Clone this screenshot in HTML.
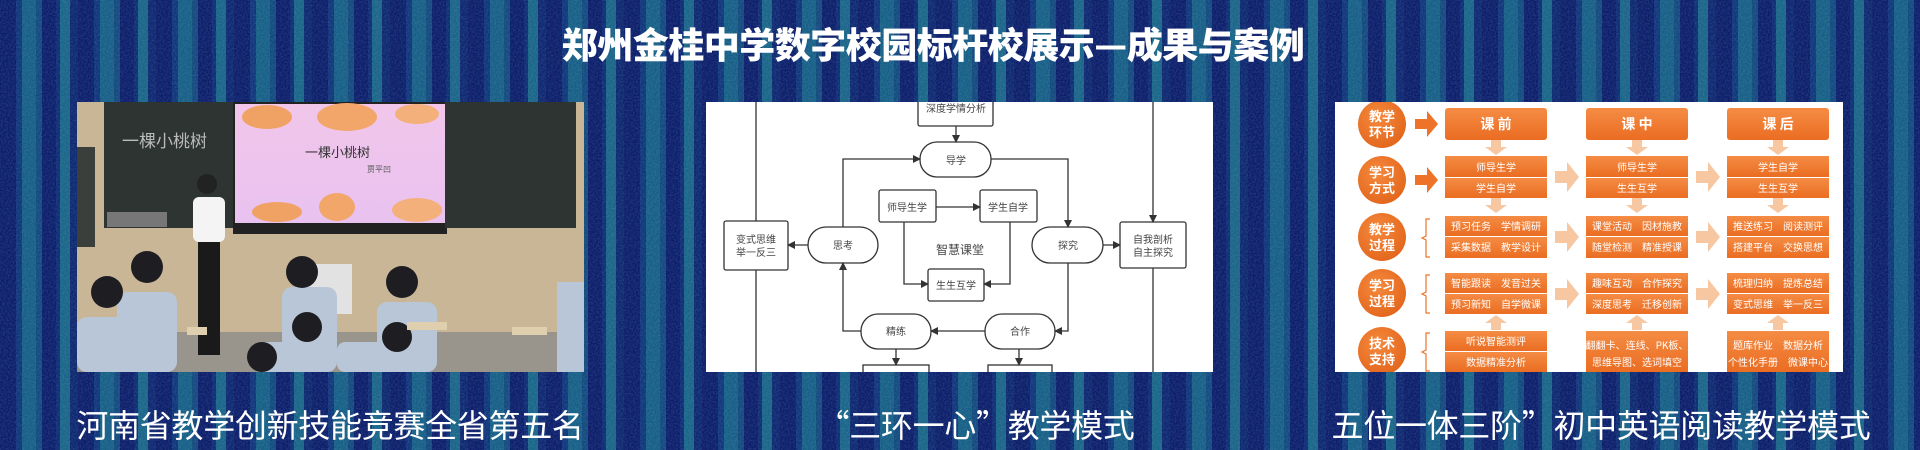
<!DOCTYPE html>
<html><head><meta charset="utf-8">
<style>
html,body{margin:0;padding:0;}
body{width:1920px;height:450px;overflow:hidden;position:relative;
background:
repeating-linear-gradient(90deg,#0c1e6a 0 16px,#10357a 16px 22px,#175f86 22px 36px,#13497e 36px 42px,#0c1e6a 42px 56px,#0f2c74 56px 60px,#1a6588 60px 70px,#0e2870 70px 78px);
font-family:"Liberation Sans","Noto Sans CJK SC",sans-serif;}
.noise{position:absolute;left:0;top:0;width:1920px;height:450px;opacity:0.25;}
.t{position:absolute;color:#fff;white-space:nowrap;transform:translateX(-50%);}
.title{left:933px;top:17px;font-size:36px;font-weight:900;letter-spacing:-0.5px;font-family:"Noto Sans CJK SC",sans-serif;}
.cap{top:401px;font-size:32px;font-family:"Noto Sans CJK SC",sans-serif;font-weight:400;letter-spacing:-0.3px;}
.p{position:absolute;top:102px;height:270px;}
svg text{font-family:"Noto Sans CJK SC",sans-serif;}
</style></head><body>
<svg class="noise" width="1920" height="450"><filter id="n"><feTurbulence type="fractalNoise" baseFrequency="0.6" numOctaves="1"/><feColorMatrix values="0 0 0 0 0.5  0 0 0 0 0.7  0 0 0 0 0.9  0 0 0 1.2 -0.4"/></filter><rect width="1920" height="450" filter="url(#n)"/></svg>
<div class="t title">郑州金桂中学数字校园标杆校展示—成果与案例</div>

<!-- panel 1 photo -->
<svg class="p" style="left:77px" width="507" height="270" viewBox="0 0 507 270">
<rect width="507" height="270" fill="#c8b697"/>
<rect x="0" y="45" width="18" height="100" fill="#3a3f3c"/>
<rect x="27" y="0" width="131" height="126" fill="#2e3432"/>
<text x="45" y="45" font-size="17" fill="#bbb">一棵小桃树</text>
<rect x="30" y="110" width="60" height="15" fill="#777"/>
<rect x="156" y="0" width="214" height="132" fill="#222"/>
<defs><linearGradient id="pk" x1="0" y1="0" x2="0" y2="1"><stop offset="0" stop-color="#f1c6ea"/><stop offset="1" stop-color="#e9c2f0"/></linearGradient></defs>
<rect x="158" y="2" width="210" height="119" fill="url(#pk)"/>
<ellipse cx="190" cy="15" rx="25" ry="12" fill="#f0a264"/>
<ellipse cx="270" cy="15" rx="30" ry="14" fill="#f2a66a"/>
<ellipse cx="340" cy="12" rx="22" ry="10" fill="#f3b07a"/>
<ellipse cx="200" cy="110" rx="25" ry="10" fill="#f0a264"/>
<ellipse cx="260" cy="105" rx="18" ry="14" fill="#f2a66a"/>
<ellipse cx="340" cy="108" rx="25" ry="12" fill="#f3b07a"/>
<text x="228" y="55" font-size="13" fill="#333">一棵小桃树</text>
<text x="290" y="70" font-size="8" fill="#555">贾平凹</text>
<rect x="368" y="0" width="131" height="126" fill="#2e3432"/>
<rect x="0" y="230" width="507" height="40" fill="#9a958c"/>
<rect x="225" y="162" width="50" height="50" fill="#e2e2e2"/>
<circle cx="130" cy="82" r="10" fill="#222"/>
<rect x="116" y="95" width="32" height="45" rx="6" fill="#f4f4f4"/>
<rect x="121" y="140" width="22" height="113" fill="#1a1a1a"/>
<g fill="#b9c6d8">
<rect x="0" y="215" width="70" height="55" rx="10"/><rect x="40" y="190" width="60" height="80" rx="10"/>
<rect x="205" y="185" width="55" height="85" rx="10"/><rect x="180" y="240" width="70" height="30" rx="8"/>
<rect x="300" y="200" width="60" height="70" rx="10"/><rect x="260" y="240" width="70" height="30" rx="8"/>
<rect x="480" y="180" width="27" height="90"/>
</g>
<g fill="#1e1e22">
<circle cx="30" cy="190" r="16"/><circle cx="70" cy="165" r="16"/><circle cx="225" cy="170" r="16"/>
<circle cx="230" cy="225" r="15"/><circle cx="325" cy="180" r="16"/><circle cx="320" cy="235" r="15"/><circle cx="185" cy="255" r="15"/>
</g>
<g fill="#e0cfae"><rect x="110" y="225" width="20" height="8"/><rect x="330" y="220" width="40" height="8"/><rect x="435" y="225" width="35" height="8"/></g>
</svg>

<!-- panel 2 flowchart -->
<svg class="p" style="left:706px" width="507" height="270" viewBox="0 0 507 270">
<defs><marker id="a" markerWidth="8" markerHeight="8" refX="7" refY="4" orient="auto" markerUnits="userSpaceOnUse"><path d="M0,0 L8,4 L0,8 z" fill="#333"/></marker></defs>
<rect width="507" height="270" fill="#fff"/>
<g stroke="#333" stroke-width="1.3" fill="none">
<line x1="50" y1="0" x2="50" y2="119"/><line x1="50" y1="168" x2="50" y2="270"/>
<line x1="447" y1="0" x2="447" y2="120" marker-end="url(#a)"/><line x1="447" y1="166" x2="447" y2="270"/>
<rect x="212" y="-10" width="75" height="34" rx="2"/>
<line x1="250" y1="24" x2="250" y2="40" marker-end="url(#a)"/>
<rect x="214" y="40" width="71" height="35" rx="17"/>
<polyline points="137,125 137,57 214,57" marker-end="url(#a)"/>
<polyline points="285,57 362,57 362,125" marker-end="url(#a)"/>
<rect x="173" y="88" width="57" height="32" rx="2"/>
<rect x="274" y="88" width="57" height="32" rx="2"/>
<line x1="230" y1="105" x2="274" y2="105" marker-end="url(#a)"/>
<rect x="102" y="125" width="70" height="36" rx="18"/>
<rect x="18" y="119" width="64" height="49" rx="2"/>
<line x1="102" y1="143" x2="82" y2="143" marker-end="url(#a)"/>
<rect x="222" y="167" width="56" height="32" rx="2"/>
<polyline points="198,120 198,182 222,182" marker-end="url(#a)"/>
<polyline points="304,120 304,182 278,182" marker-end="url(#a)"/>
<rect x="326" y="125" width="71" height="36" rx="18"/>
<rect x="414" y="120" width="66" height="46" rx="2"/>
<line x1="397" y1="143" x2="414" y2="143" marker-end="url(#a)"/>
<rect x="155" y="212" width="70" height="35" rx="17"/>
<rect x="279" y="212" width="70" height="35" rx="17"/>
<line x1="279" y1="229" x2="225" y2="229" marker-end="url(#a)"/>
<polyline points="362,161 362,229 349,229" marker-end="url(#a)"/>
<polyline points="155,229 137,229 137,161" marker-end="url(#a)"/>
<line x1="190" y1="247" x2="190" y2="263" marker-end="url(#a)"/>
<line x1="313" y1="247" x2="313" y2="263" marker-end="url(#a)"/>
<rect x="157" y="263" width="66" height="20"/>
<rect x="282" y="263" width="64" height="20"/>
</g>
<g font-size="10" fill="#444" text-anchor="middle">
<text x="250" y="10">深度学情分析</text>
<text x="250" y="62">导学</text>
<text x="201" y="109">师导生学</text>
<text x="302" y="109">学生自学</text>
<text x="137" y="147">思考</text>
<text x="50" y="141">变式思维</text><text x="50" y="154">举一反三</text>
<text x="254" y="152" font-size="12">智慧课堂</text>
<text x="250" y="187">生生互学</text>
<text x="362" y="147">探究</text>
<text x="447" y="141">自我剖析</text><text x="447" y="154">自主探究</text>
<text x="190" y="233">精练</text>
<text x="314" y="233">合作</text>
</g>
</svg>

<!-- panel 3 orange -->
<svg class="p" style="left:1335px" width="508" height="270" viewBox="0 0 508 270">
<defs>
<linearGradient id="o" x1="0" y1="0" x2="0" y2="1"><stop offset="0" stop-color="#f58c44"/><stop offset="1" stop-color="#ea6d22"/></linearGradient>
<radialGradient id="c" cx="0.4" cy="0.35" r="0.7"><stop offset="0" stop-color="#f5893d"/><stop offset="1" stop-color="#e2661c"/></radialGradient>
</defs>
<rect width="508" height="270" fill="#fff"/>
<g fill="url(#c)">
<circle cx="47" cy="22" r="24"/><circle cx="47" cy="78" r="24"/><circle cx="47" cy="135" r="24"/><circle cx="47" cy="191" r="24"/><circle cx="47" cy="249" r="24"/>
</g>
<g font-size="13" font-weight="bold" fill="#fff" text-anchor="middle">
<text x="47" y="19">教学</text><text x="47" y="35">环节</text>
<text x="47" y="75">学习</text><text x="47" y="91">方式</text>
<text x="47" y="132">教学</text><text x="47" y="148">过程</text>
<text x="47" y="188">学习</text><text x="47" y="204">过程</text>
<text x="47" y="246">技术</text><text x="47" y="262">支持</text>
</g>
<g fill="#ee7328">
<path d="M80,17 h12 v-8 l11,13 l-11,13 v-8 h-12z"/>
<path d="M80,73 h12 v-8 l11,13 l-11,13 v-8 h-12z"/>
</g>
<g stroke="#ee7328" stroke-width="1.2" fill="none">
<path d="M95,117 h-4 v17 l-4,2 l4,2 v17 h4"/>
<path d="M95,173 h-4 v17 l-4,2 l4,2 v17 h4"/>
<path d="M95,231 h-4 v17 l-4,2 l4,2 v17 h4"/>
</g>
<g fill="url(#o)">
<rect x="110" y="6" width="102" height="32" rx="3"/><rect x="251" y="6" width="102" height="32" rx="3"/><rect x="392" y="6" width="102" height="32" rx="3"/>
<rect x="110" y="54" width="102" height="21"/><rect x="110" y="76" width="102" height="20"/>
<rect x="251" y="54" width="102" height="21"/><rect x="251" y="76" width="102" height="20"/>
<rect x="392" y="54" width="102" height="21"/><rect x="392" y="76" width="102" height="20"/>
<rect x="110" y="114" width="102" height="20"/><rect x="110" y="135" width="102" height="21"/>
<rect x="251" y="114" width="102" height="20"/><rect x="251" y="135" width="102" height="21"/>
<rect x="392" y="114" width="102" height="20"/><rect x="392" y="135" width="102" height="21"/>
<rect x="110" y="171" width="102" height="20"/><rect x="110" y="192" width="102" height="20"/>
<rect x="251" y="171" width="102" height="20"/><rect x="251" y="192" width="102" height="20"/>
<rect x="392" y="171" width="102" height="20"/><rect x="392" y="192" width="102" height="20"/>
<rect x="110" y="229" width="102" height="20"/><rect x="110" y="250" width="102" height="20"/>
<rect x="251" y="229" width="102" height="41"/>
<rect x="392" y="229" width="102" height="41"/>
</g>
<g fill="#f7c7a2">
<path d="M156,38 h10 v7 h6 l-11,8 l-11,-8 h6z"/><path d="M297,38 h10 v7 h6 l-11,8 l-11,-8 h6z"/><path d="M438,38 h10 v7 h6 l-11,8 l-11,-8 h6z"/>
<path d="M156,96 h10 v7 h6 l-11,8 l-11,-8 h6z"/><path d="M297,96 h10 v7 h6 l-11,8 l-11,-8 h6z"/><path d="M438,96 h10 v7 h6 l-11,8 l-11,-8 h6z"/>
<path d="M156,228 h10 v-7 h6 l-11,-8 l-11,8 h6z"/><path d="M297,228 h10 v-7 h6 l-11,-8 l-11,8 h6z"/><path d="M438,228 h10 v-7 h6 l-11,-8 l-11,8 h6z"/>
<path d="M220,69 h12 v-9 l12,15 l-12,15 v-9 h-12z"/><path d="M361,69 h12 v-9 l12,15 l-12,15 v-9 h-12z"/>
<path d="M220,129 h12 v-9 l12,15 l-12,15 v-9 h-12z"/><path d="M361,129 h12 v-9 l12,15 l-12,15 v-9 h-12z"/>
<path d="M220,186 h12 v-9 l12,15 l-12,15 v-9 h-12z"/><path d="M361,186 h12 v-9 l12,15 l-12,15 v-9 h-12z"/>
</g>
<g font-size="14" font-weight="bold" fill="#fff" text-anchor="middle">
<text x="161" y="27">课 前</text><text x="302" y="27">课 中</text><text x="443" y="27">课 后</text>
</g>
<g font-size="10" fill="#fff" text-anchor="middle">
<text x="161" y="69">师导生学</text><text x="161" y="90">学生自学</text>
<text x="302" y="69">师导生学</text><text x="302" y="90">生生互学</text>
<text x="443" y="69">学生自学</text><text x="443" y="90">生生互学</text>
<text x="161" y="128">预习任务　学情调研</text><text x="161" y="149">采集数据　教学设计</text>
<text x="302" y="128">课堂活动　因材施教</text><text x="302" y="149">随堂检测　精准授课</text>
<text x="443" y="128">推送练习　阅读测评</text><text x="443" y="149">搭建平台　交换思想</text>
<text x="161" y="185">智能跟读　发音过关</text><text x="161" y="206">预习新知　自学微课</text>
<text x="302" y="185">趣味互动　合作探究</text><text x="302" y="206">深度思考　迁移创新</text>
<text x="443" y="185">梳理归纳　提炼总结</text><text x="443" y="206">变式思维　举一反三</text>
<text x="161" y="243">听说智能测评</text><text x="161" y="264">数据精准分析</text>
<text x="302" y="247">翻翻卡、连线、PK板、</text><text x="302" y="264">思维导图、选词填空</text>
<text x="443" y="247">题库作业　数据分析</text><text x="443" y="264">个性化手册　微课中心</text>
</g>
</svg>

<div class="t cap" style="left:330px">河南省教学创新技能竞赛全省第五名</div>
<div class="t cap" style="left:976px">“三环一心”教学模式</div>
<div class="t cap" style="left:1601px">五位一体三阶”初中英语阅读教学模式</div>
</body></html>
